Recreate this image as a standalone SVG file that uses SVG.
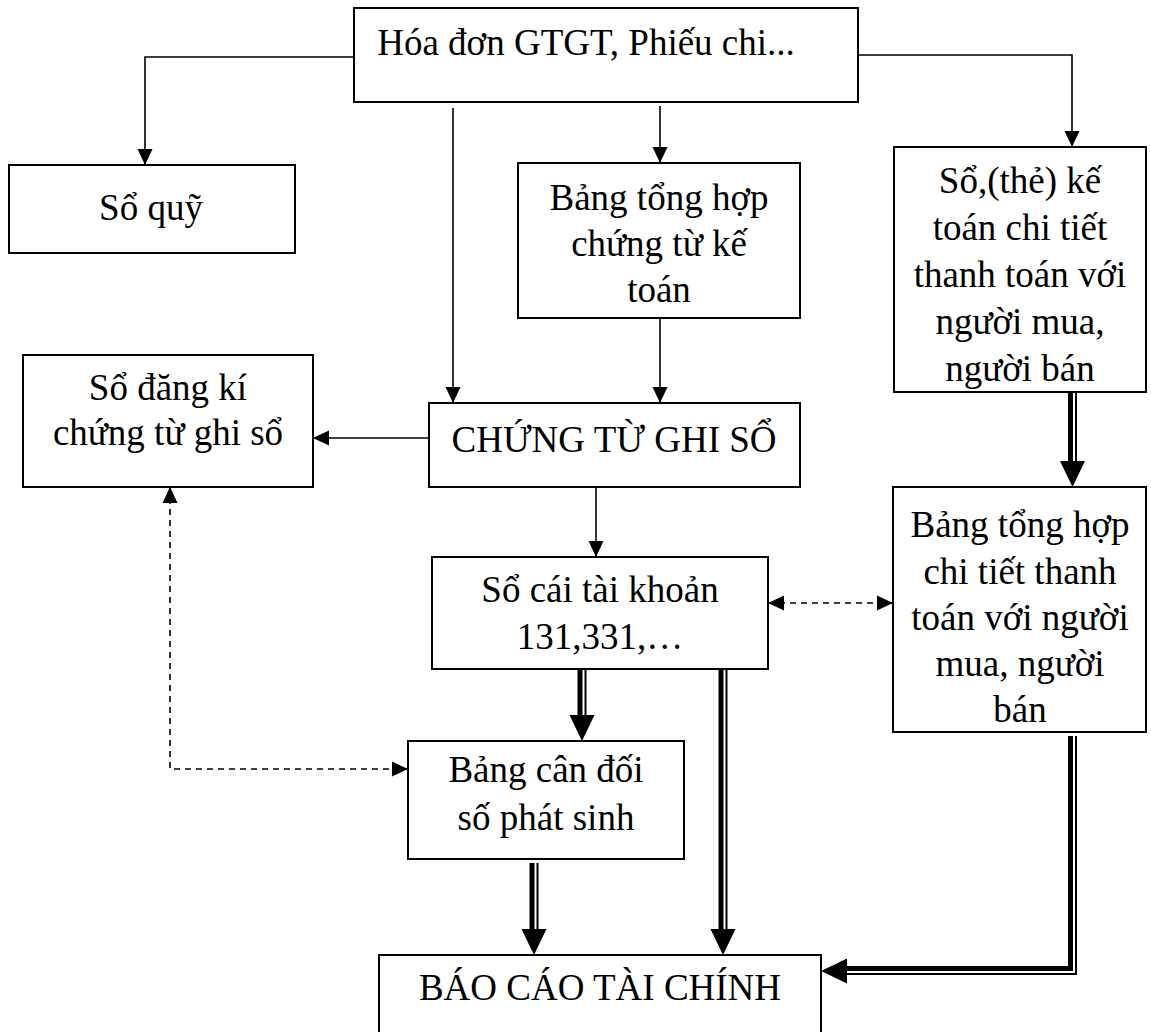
<svg xmlns="http://www.w3.org/2000/svg" width="1151" height="1032" viewBox="0 0 1151 1032">
  <style>
    .box { fill: #fff; stroke: #000; stroke-width: 2; }
    .lbl { font-family: "Liberation Serif", "Times New Roman", serif; font-size: 37px; fill: #000; text-anchor: middle; }
    .ln { fill: none; stroke: #000; stroke-width: 1.6; }
    .dash { fill: none; stroke: #000; stroke-width: 1.6; stroke-dasharray: 6 5; }
    .thick { fill: none; stroke: #000; stroke-width: 5; }
    .thin { fill: none; stroke: #000; stroke-width: 2; }
    .guide { fill: none; stroke: none; }
  </style>
  <defs>
    <marker id="arr" markerUnits="userSpaceOnUse" markerWidth="16" markerHeight="16" refX="16" refY="8" orient="auto-start-reverse">
      <path d="M0,0.5 L16,8 L0,15.5 z" fill="#000"/>
    </marker>
    <marker id="bigArr" markerUnits="userSpaceOnUse" markerWidth="26" markerHeight="26" refX="26" refY="13" orient="auto">
      <path d="M0,0.5 L26,13 L0,25.5 z" fill="#000"/>
    </marker>
  </defs>

  <rect width="1151" height="1032" fill="#fff"/>

  <g id="connectors">
    <!-- single-line flows -->
    <path class="ln" d="M354,57 H145 V165" marker-end="url(#arr)"/>
    <path class="ln" d="M858,55 H1072 V147" marker-end="url(#arr)"/>
    <path class="ln" d="M453,108 V403" marker-end="url(#arr)"/>
    <path class="ln" d="M660,106 V163" marker-end="url(#arr)"/>
    <path class="ln" d="M660,318 V403" marker-end="url(#arr)"/>
    <path class="ln" d="M429,438 H313" marker-end="url(#arr)"/>
    <path class="ln" d="M596,487 V557" marker-end="url(#arr)"/>

    <!-- reconciliation (dashed, two-way) -->
    <path class="dash" d="M170,487 V769 H408" marker-start="url(#arr)" marker-end="url(#arr)"/>
    <path class="dash" d="M768,603 H893" marker-start="url(#arr)" marker-end="url(#arr)"/>

    <!-- double-line flows -->
    <g id="dbl-detail">
      <path class="thick" d="M1070.5,392 V465"/>
      <path class="thin" d="M1076,392 V465"/>
      <path class="guide" d="M1072.5,392 V487" marker-end="url(#bigArr)"/>
    </g>
    <g id="dbl-ledger-trial">
      <path class="thick" d="M580,669 V720"/>
      <path class="thin" d="M585.5,669 V720"/>
      <path class="guide" d="M582,669 V741" marker-end="url(#bigArr)"/>
    </g>
    <g id="dbl-ledger-report">
      <path class="thick" d="M721,669 V932"/>
      <path class="thin" d="M726.5,669 V932"/>
      <path class="guide" d="M723,669 V955" marker-end="url(#bigArr)"/>
    </g>
    <g id="dbl-trial-report">
      <path class="thick" d="M532,863 V932"/>
      <path class="thin" d="M537.5,863 V932"/>
      <path class="guide" d="M534,863 V955" marker-end="url(#bigArr)"/>
    </g>
    <g id="dbl-summary-report">
      <path class="thick" d="M1070.5,736 V968.5 H845"/>
      <path class="thin" d="M1076,736 V974 H845"/>
      <path class="guide" d="M900,971 H821" marker-end="url(#bigArr)"/>
    </g>
  </g>

  <g id="hoa-don">
    <rect class="box" x="354" y="8" width="504" height="94"/>
    <text class="lbl" x="586" y="55">Hóa đơn GTGT, Phiếu chi...</text>
  </g>

  <g id="so-quy">
    <rect class="box" x="9" y="165" width="286" height="88"/>
    <text class="lbl" x="151" y="220">Sổ quỹ</text>
  </g>

  <g id="bang-tong-hop-chung-tu">
    <rect class="box" x="518" y="163" width="282" height="155"/>
    <text class="lbl" x="659" y="210">Bảng tổng hợp</text>
    <text class="lbl" x="659" y="256">chứng từ kế</text>
    <text class="lbl" x="659" y="302">toán</text>
  </g>

  <g id="so-the-chi-tiet">
    <rect class="box" x="894" y="147" width="252" height="245"/>
    <text class="lbl" x="1020" y="193">Sổ,(thẻ) kế</text>
    <text class="lbl" x="1020" y="240">toán chi tiết</text>
    <text class="lbl" x="1020" y="287">thanh toán với</text>
    <text class="lbl" x="1020" y="334">người mua,</text>
    <text class="lbl" x="1020" y="381">người bán</text>
  </g>

  <g id="so-dang-ki">
    <rect class="box" x="23" y="355" width="290" height="132"/>
    <text class="lbl" x="168" y="400">Sổ đăng kí</text>
    <text class="lbl" x="168" y="445">chứng từ ghi sổ</text>
  </g>

  <g id="chung-tu-ghi-so">
    <rect class="box" x="429" y="403" width="371" height="84"/>
    <text class="lbl" x="614" y="452">CHỨNG TỪ GHI SỔ</text>
  </g>

  <g id="bang-tong-hop-chi-tiet">
    <rect class="box" x="893" y="487" width="253" height="245"/>
    <text class="lbl" x="1020" y="537">Bảng tổng hợp</text>
    <text class="lbl" x="1020" y="584">chi tiết thanh</text>
    <text class="lbl" x="1020" y="630">toán với người</text>
    <text class="lbl" x="1020" y="676">mua, người</text>
    <text class="lbl" x="1020" y="722">bán</text>
  </g>

  <g id="so-cai">
    <rect class="box" x="432" y="557" width="336" height="112"/>
    <text class="lbl" x="600" y="602">Sổ cái tài khoản</text>
    <text class="lbl" x="600" y="649">131,331,…</text>
  </g>

  <g id="bang-can-doi">
    <rect class="box" x="408" y="741" width="276" height="118"/>
    <text class="lbl" x="546" y="782">Bảng cân đối</text>
    <text class="lbl" x="546" y="830">số phát sinh</text>
  </g>

  <g id="bao-cao">
    <rect class="box" x="379" y="955" width="442" height="100"/>
    <text class="lbl" x="600" y="1000">BÁO CÁO TÀI CHÍNH</text>
  </g>
</svg>
